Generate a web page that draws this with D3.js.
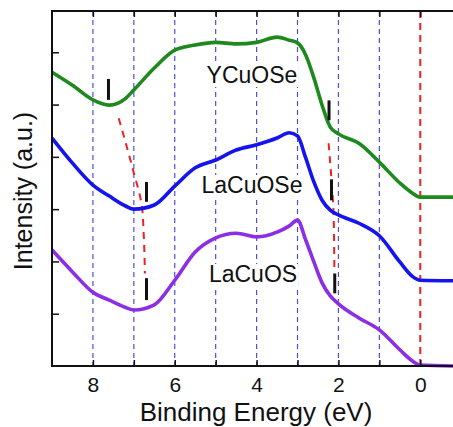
<!DOCTYPE html>
<html>
<head>
<meta charset="utf-8">
<script src="https://cdn.jsdelivr.net/npm/d3@7"></script>
<style>
  body { margin: 0; background: #fff; }
  svg { display: block; font-family: "Liberation Sans", Arial, sans-serif; }
</style>
</head>
<body>
<svg id="chart" width="453" height="427"></svg>
<script>
// binding energy (eV) where the spectra were read
var energy   = [9, 8.5, 8, 7.6, 7.2, 7, 6.5, 6, 5.5, 5, 4.5, 4, 3.5, 3.2, 3, 2.8, 2.6, 2.4, 2.2, 2, 1.5, 1, 0.5, 0.2, 0, -0.8];
var ycuose   = [5.62, 5.37, 5.09, 4.99, 5.12, 5.28, 5.70, 6.04, 6.14, 6.19, 6.16, 6.19, 6.29, 6.23, 6.18, 5.95, 5.51, 4.99, 4.57, 4.44, 4.26, 3.90, 3.50, 3.31, 3.23, 3.23];
var lacuose  = [4.36, 3.88, 3.46, 3.25, 3.06, 3.00, 3.08, 3.44, 3.79, 3.94, 4.13, 4.23, 4.36, 4.46, 4.40, 3.98, 3.52, 3.17, 2.98, 2.89, 2.73, 2.49, 1.99, 1.72, 1.64, 1.63];
var lacuos   = [2.22, 1.80, 1.41, 1.26, 1.12, 1.07, 1.17, 1.64, 2.18, 2.45, 2.54, 2.47, 2.56, 2.68, 2.79, 2.41, 1.99, 1.59, 1.34, 1.19, 0.92, 0.69, 0.31, 0.10, 0.02, 0.00];

var names  = ["YCuOSe", "LaCuOSe", "LaCuOS"];
var colors = ["#1e8a1e", "#1414ee", "#8c2ee6"];
var labelPos = [[252, 83], [252, 193], [253, 282]];   // label centre x, baseline (px)

var gridEnergies = [8, 7, 6, 5, 4, 3, 2, 1];
var tickLabels = [8, 6, 4, 2, 0];
var yTicks = [1, 2, 3, 4, 5, 6];

// vertical markers: [energy, bottom, top]
var markers = [[7.62, 5.09, 5.49], [2.23, 4.70, 5.08],
               [6.69, 3.14, 3.52], [2.17, 3.17, 3.57],
               [6.69, 1.26, 1.68], [2.09, 1.39, 1.77]];
// red guide lines (energy, intensity)
var guideLeft  = [[7.37, 4.74], [7.02, 3.75], [6.80, 3.04], [6.76, 2.54], [6.73, 1.77]];
var guideRight = [[2.24, 4.26], [2.17, 3.56], [2.12, 2.93], [2.10, 1.89]];

var svg = d3.select("#chart");
var mLeft = 52, mRight = 453, mTop = 11, mBottom = 366;

var x = d3.scaleLinear().domain([9, -0.8]).range([mLeft, mRight]);
var y = d3.scaleLinear().domain([0, 7]).range([mBottom, 0]);

// dashed grid
svg.selectAll(".grid").data(gridEnergies).enter().append("line")
  .attr("x1", function(d){ return x(d); }).attr("x2", function(d){ return x(d); })
  .attr("y1", mTop).attr("y2", mBottom)
  .attr("stroke", "#4f4fdc").attr("stroke-width", 1.2)
  .attr("stroke-dasharray", "5,4");

svg.append("line")
  .attr("x1", x(0)).attr("x2", x(0)).attr("y1", mTop).attr("y2", mBottom)
  .attr("stroke", "#ee2020").attr("stroke-width", 2)
  .attr("stroke-dasharray", "7,5");

// red guides
var guide = d3.line()
  .x(function(d){ return x(d[0]); })
  .y(function(d){ return y(d[1]); })
  .curve(d3.curveMonotoneY);
[guideLeft, guideRight].forEach(function(g){
  svg.append("path").datum(g).attr("d", guide)
    .attr("fill", "none").attr("stroke", "#ee2020").attr("stroke-width", 2)
    .attr("stroke-dasharray", "7,6");
});

// spectra
var series = [ycuose, lacuose, lacuos];
var line = d3.line()
  .x(function(d, i){ return x(energy[i]); })
  .y(function(d){ return y(d); })
  .curve(d3.curveMonotoneX);
series.forEach(function(s, k){
  svg.append("path").datum(s).attr("d", line)
    .attr("fill", "none").attr("stroke", colors[k])
    .attr("stroke-width", 3.6).attr("stroke-linejoin", "round");
});

// markers
svg.selectAll(".mark").data(markers).enter().append("line")
  .attr("x1", function(d){ return x(d[0]); }).attr("x2", function(d){ return x(d[0]); })
  .attr("y1", function(d){ return y(d[1]); }).attr("y2", function(d){ return y(d[2]); })
  .attr("stroke", "#111").attr("stroke-width", 3);

// labels with white background
names.forEach(function(n, k){
  var g = svg.append("g");
  var t = g.append("text")
    .attr("x", labelPos[k][0]).attr("y", labelPos[k][1])
    .attr("text-anchor", "middle").attr("font-size", 23).attr("fill", "#111")
    .text(n);
  var b = t.node().getBBox();
  g.insert("rect", "text").attr("x", b.x - 1).attr("y", b.y + 3)
    .attr("width", b.width + 2).attr("height", b.height - 4).attr("fill", "#fff");
});

// axes (ticks inward)
svg.append("g").attr("transform", "translate(" + mLeft + ",0)")
  .call(d3.axisRight(y).tickValues(yTicks).tickSize(7).tickFormat(""))
  .call(function(g){ g.select(".domain").remove(); });

svg.append("g").attr("transform", "translate(0," + mBottom + ")")
  .call(d3.axisTop(x).tickValues(d3.range(0, 9)).tickSize(6).tickFormat(""))
  .call(function(g){ g.select(".domain").remove(); });

svg.append("g").attr("transform", "translate(0," + mTop + ")")
  .call(d3.axisBottom(x).tickValues(d3.range(0, 9)).tickSize(6).tickFormat(""))
  .call(function(g){ g.select(".domain").remove(); });

svg.selectAll(".tick line").attr("stroke", "#111").attr("stroke-width", 1.5);

var xl = svg.append("g").attr("transform", "translate(0," + mBottom + ")")
  .call(d3.axisBottom(x).tickValues(tickLabels).tickSize(0).tickPadding(11).tickFormat(d3.format("d")));
xl.select(".domain").remove();
xl.selectAll("text").attr("font-size", 21).attr("fill", "#111")
  .attr("font-family", "'Liberation Sans', Arial, sans-serif");

// frame
svg.append("path")
  .attr("d", "M" + mRight + "," + mTop + "H" + mLeft + "V" + mBottom + "H" + mRight)
  .attr("fill", "none").attr("stroke", "#111").attr("stroke-width", 2);

svg.append("text").attr("x", 256).attr("y", 421)
  .attr("text-anchor", "middle").attr("font-size", 26).attr("fill", "#111")
  .text("Binding Energy (eV)");

svg.append("text").attr("transform", "translate(32,191) rotate(-90)")
  .attr("text-anchor", "middle").attr("font-size", 25).attr("fill", "#111")
  .text("Intensity (a.u.)");
</script>
</body>
</html>
